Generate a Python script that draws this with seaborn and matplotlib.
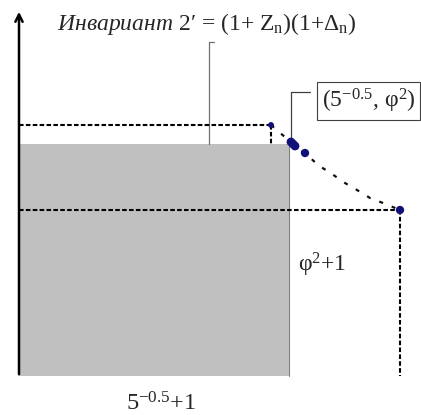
import numpy as np
import seaborn as sns
import matplotlib
matplotlib.use("Agg")
import matplotlib.pyplot as plt

# values (arbitrary units, origin at axes corner)
rect_w = 2.70          # grey area width  (5^-0.5 + 1)
rect_h = 2.32          # grey area height
corner_pt = (2.52, 2.51)   # upper dashed corner
far_pt = (3.81, 1.66)      # lower dashed corner

curve_x = [2.52, 2.74, 2.86, 2.99, 3.13, 3.26, 3.38, 3.51, 3.64, 3.81]
curve_y = [2.51, 2.32, 2.23, 2.11, 2.02, 1.93, 1.86, 1.78, 1.73, 1.66]

pts_x = [2.52, 2.72, 2.74, 2.76, 2.86, 3.81]
pts_y = [2.51, 2.34, 2.32, 2.30, 2.23, 1.66]
pts_size = [18, 40, 40, 40, 36, 36]

title = r"$\mathit{Инвариант}$ 2′ = (1+ Z$_\mathrm{n}$)(1+Δ$_\mathrm{n}$)"
box_label = r"(5$^{-0.5}$, φ$^2$)"
x_label = r"5$^{-0.5}$+1"
y_label = r"φ$^2$+1"

sns.set_theme(style="white")
plt.rcParams['font.family'] = ['Liberation Serif', 'DejaVu Serif']
plt.rcParams['mathtext.fontset'] = 'custom'
plt.rcParams['mathtext.rm'] = 'Liberation Serif'
plt.rcParams['mathtext.it'] = 'Liberation Serif:italic'

fig = plt.figure(figsize=(4.21, 4.15), dpi=100)
ax = fig.add_axes([0, 0, 1, 1])
ax.set_xlim(-0.19, 4.02)
ax.set_ylim(-0.39, 3.76)
ax.axis('off')

# grey area
ax.bar(0, rect_h, width=rect_w, align='edge', color='#c0c0c0',
       edgecolor='none', zorder=1)
ax.plot([rect_w, rect_w], [0, rect_h], color='#808080', lw=0.8, zorder=2)

# dashed guide lines
dash = dict(color='black', lw=1.5, linestyle=(0, (2.2, 1.1)), zorder=3)
ax.plot([0, corner_pt[0]], [corner_pt[1]] * 2, **dash)
ax.plot([corner_pt[0]] * 2, [corner_pt[1], rect_h], **dash)
ax.plot([0, far_pt[0]], [far_pt[1]] * 2, **dash)
ax.plot([far_pt[0]] * 2, [far_pt[1], 0], **dash)

# invariant curve
sns.lineplot(x=curve_x, y=curve_y, ax=ax, sort=False, color='#101010',
             lw=1.6, linestyle=(0, (1.8, 4.2)), zorder=4)
sns.scatterplot(x=pts_x, y=pts_y, ax=ax, s=pts_size, color='#10107a',
                edgecolor='#10107a', linewidth=0, zorder=5, legend=False)

# axes arrows
arrow = dict(arrowstyle='->', color='black', lw=1.8, mutation_scale=13)
ax.annotate('', xy=(0, 3.67), xytext=(0, -0.01), arrowprops=arrow)
ax.annotate('', xy=(4.06, 0), xytext=(-0.01, 0), arrowprops=arrow)

# callouts
ax.plot([1.90, 1.90, 1.95], [rect_h, 3.34, 3.34], color='#707070', lw=0.9, zorder=2)
ax.plot([2.72, 2.72, 2.91], [2.34, 2.84, 2.84], color='#404040', lw=0.9, zorder=2)

ax.text(1.88, 3.52, title, ha='center', va='center', fontsize=17)
ax.text(3.03, 2.75, box_label, ha='left', va='center', fontsize=17,
        bbox=dict(boxstyle='square,pad=0.2', fc='white', ec='#404040', lw=0.8))
ax.text(3.03, 1.11, y_label, ha='center', va='center', fontsize=17)
ax.text(1.42, -0.28, x_label, ha='center', va='center', fontsize=17.5)

fig.savefig('out.png', dpi=100)
